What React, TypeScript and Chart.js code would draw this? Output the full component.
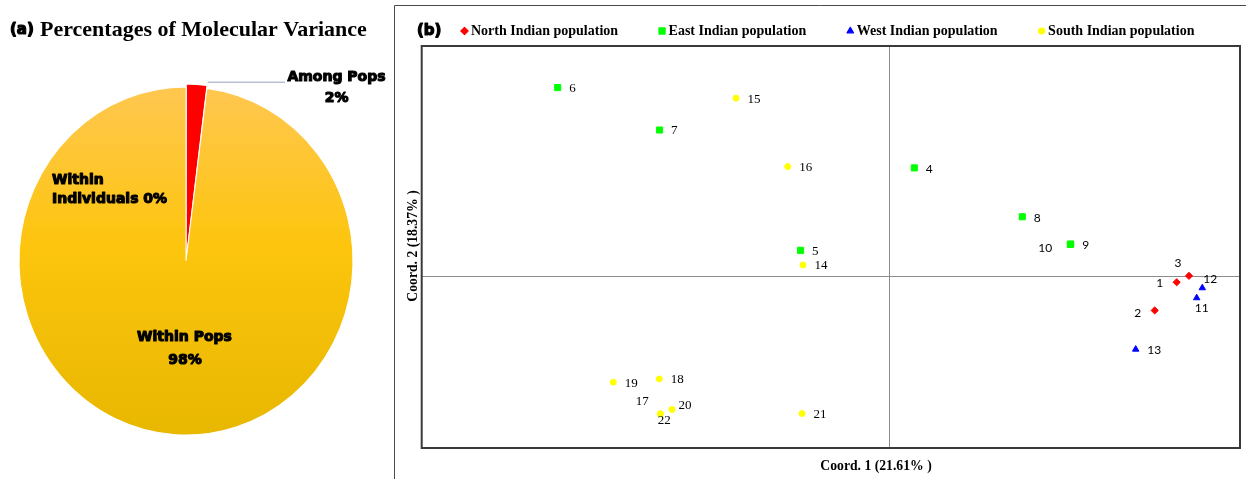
import React, { useEffect, useRef } from "react";
import { Chart, registerables } from "chart.js";
import { drawPoint } from "chart.js/helpers";

Chart.register(...registerables);

// ---------- Panel (a): AMOVA ----------
const amovaCategories = ["Among Pops", "Within Pops", "Within Individuals"];
const amovaPercent = [2, 98, 0];
const panelATitle = "Percentages of Molecular Variance";

// ---------- Panel (b): PCoA ----------
const populationNames = [
  "North Indian population",
  "East Indian population",
  "West Indian population",
  "South Indian population",
];

const northLabels = ["1", "2", "3"];
const northX = [2.874, 2.654, 2.997];
const northY = [-0.06, -0.343, 0.004];

const eastLabels = ["4", "5", "6", "7", "8", "9", "10"];
const eastX = [0.25, -0.887, -3.316, -2.297, 1.33, 1.814, 1.81];
const eastY = [1.087, 0.26, 1.893, 1.467, 0.597, 0.323, 0.32];

const westLabels = ["11", "12", "13"];
const westX = [3.074, 3.13, 2.464];
const westY = [-0.217, -0.117, -0.733];

const southLabels = ["14", "15", "16", "17", "18", "19", "20", "21", "22"];
const southX = [-0.863, -1.533, -1.016, -2.29, -2.3, -2.76, -2.173, -0.873, -2.29];
const southY = [0.113, 1.787, 1.1, -1.38, -1.03, -1.063, -1.337, -1.377, -1.38];

const xAxisTitle = "Coord. 1 (21.61% )";
const yAxisTitle = "Coord. 2 (18.37% )";
const xRange = [-4.676, 3.507];
const yRange = [-1.723, 2.31];

// ---------- styles ----------
const groupStyles = [
  { color: "#FF0000", pointStyle: "rectRot", radius: 3.6 },
  { color: "#00FF00", pointStyle: "rect", radius: 4.3 },
  { color: "#0000FF", pointStyle: "triangle", radius: 3.7 },
  { color: "#FFFF00", pointStyle: "circle", radius: 3.0 },
];
const sansLabels = new Set(["1", "2", "3", "4", "8", "9", "10", "11", "12", "13"]);
const labelShift: Record<string, [number, number]> = {
  "10": [-25, 4],
  "3": [-11, -13],
  "1": [-17, 1],
  "2": [-17, 3],
  "12": [8, -9],
  "11": [5, 10],
  "17": [-18, -12],
  "22": [4, 7],
  "20": [13, -4],
};

const PIE_RADIUS = 167;
const PIE_SQUASH = 1.042;
const SERIF = '"Liberation Serif", "Times New Roman", serif';
const HEAVY = '"DejaVu Sans", sans-serif';

const pieShapePlugin = {
  id: "pieShape",
  beforeDatasetsDraw(chart: any) {
    const arc = chart.getDatasetMeta(0).data[1];
    const ctx = chart.ctx;
    ctx.save();
    ctx.translate(arc.x, arc.y);
    ctx.scale(1, PIE_SQUASH);
    ctx.translate(-arc.x, -arc.y);
  },
  afterDatasetsDraw(chart: any) {
    chart.ctx.restore();
  },
};

function heavyText(ctx: CanvasRenderingContext2D, t: string, x: number, y: number, w = 1.1) {
  ctx.lineWidth = w;
  ctx.lineJoin = "round";
  ctx.strokeStyle = "#000";
  ctx.strokeText(t, x, y);
  ctx.fillText(t, x, y);
}

const pieTextPlugin = {
  id: "pieText",
  afterDraw(chart: any) {
    const ctx: CanvasRenderingContext2D = chart.ctx;
    const meta = chart.getDatasetMeta(0);
    const among = meta.data[0];
    const cx = among.x;
    const cy = among.y;
    const off = 6;
    const r = among.outerRadius + off;
    const ex = cx + Math.cos(among.endAngle) * r;
    const ey = cy + Math.sin(among.endAngle) * r * PIE_SQUASH;
    ctx.save();
    // title
    ctx.fillStyle = "#000";
    ctx.textBaseline = "alphabetic";
    ctx.textAlign = "left";
    ctx.font = `bold 15px ${HEAVY}`;
    heavyText(ctx, "(a)", 10, 34, 1.2);
    ctx.font = `bold 22px ${SERIF}`;
    ctx.fillText(panelATitle, 40, 36);

    // leader line
    ctx.strokeStyle = "#b8c1d2";
    ctx.lineWidth = 1.5;
    ctx.beginPath();
    ctx.moveTo(ex, ey);
    ctx.lineTo(285, ey);
    ctx.stroke();

    ctx.font = `bold 14px ${HEAVY}`;
    ctx.fillStyle = "#000";
    ctx.textBaseline = "middle";
    ctx.textAlign = "center";
    heavyText(ctx, amovaCategories[0], 336.5, 77);
    heavyText(ctx, amovaPercent[0] + "%", 336.7, 98);

    const [w1, w2] = amovaCategories[2].split(" ");
    ctx.textAlign = "left";
    heavyText(ctx, w1, 52, 180);
    heavyText(ctx, w2 + " " + amovaPercent[2] + "%", 52, 199.5);

    const pop = meta.data[1].tooltipPosition();
    ctx.textAlign = "center";
    const ly = cy + (pop.y - cy) * PIE_SQUASH;
    heavyText(ctx, amovaCategories[1], cx - 1.5, ly - 10);
    heavyText(ctx, amovaPercent[1] + "%", cx - 1, ly + 13);
    ctx.restore();
  },
};

const groupLabels = [northLabels, eastLabels, westLabels, southLabels];

const scatterDecorPlugin = {
  id: "scatterDecor",
  afterDraw(chart: any) {
    const ctx: CanvasRenderingContext2D = chart.ctx;
    const a = chart.chartArea;
    ctx.save();
    // panel frame
    ctx.strokeStyle = "#4a4a4a";
    ctx.lineWidth = 1;
    ctx.beginPath();
    ctx.moveTo(0.5, chart.height);
    ctx.lineTo(0.5, 5.5);
    ctx.lineTo(chart.width, 5.5);
    ctx.stroke();
    // plot box
    ctx.strokeStyle = "#3a3a3a";
    ctx.lineWidth = 2;
    ctx.strokeRect(a.left, a.top, a.right - a.left, a.bottom - a.top);

    // point labels
    ctx.fillStyle = "#000";
    ctx.textBaseline = "middle";
    chart.data.datasets.forEach((ds: any, di: number) => {
      const meta = chart.getDatasetMeta(di);
      meta.data.forEach((pt: any, j: number) => {
        const t = groupLabels[di][j];
        ctx.font = sansLabels.has(t) ? "12px Lato, sans-serif" : `13px ${SERIF}`;
        const sh = labelShift[t];
        if (sh) {
          ctx.textAlign = "center";
          ctx.fillText(t, pt.x + sh[0], pt.y + sh[1]);
        } else {
          ctx.textAlign = "left";
          ctx.fillText(t, pt.x + 11.5, pt.y + 1);
        }
      });
    });

    // axis titles
    ctx.font = `bold 13.7px ${SERIF}`;
    ctx.textAlign = "center";
    ctx.fillText(xAxisTitle, 876 - 394, 466);
    ctx.save();
    ctx.translate(19, 246);
    ctx.rotate(-Math.PI / 2);
    ctx.fillText(yAxisTitle, 0, 0);
    ctx.restore();

    // legend
    ctx.textAlign = "left";
    ctx.font = `bold 15px ${HEAVY}`;
    heavyText(ctx, "(b)", 23, 31, 1.2);
    ctx.font = `bold 14px ${SERIF}`;
    let x = 67;
    const ly = 31;
    chart.data.datasets.forEach((ds: any, di: number) => {
      const st = groupStyles[di];
      ctx.fillStyle = st.color;
      ctx.strokeStyle = st.color;
      drawPoint(ctx, { pointStyle: st.pointStyle as any, radius: st.radius, borderWidth: 1, rotation: 0 }, x + 3.5, ly);
      ctx.fillStyle = "#000";
      ctx.fillText(ds.label, x + 10, ly);
      x = x + 10 + ctx.measureText(ds.label).width + 40.5;
    });
    ctx.restore();
  },
};

export default function App() {
  const pieRef = useRef<HTMLCanvasElement>(null);
  const scatterRef = useRef<HTMLCanvasElement>(null);

  useEffect(() => {
    const pie = new Chart(pieRef.current as HTMLCanvasElement, {
      type: "pie",
      data: {
        labels: amovaCategories,
        datasets: [
          {
            data: amovaPercent,
            backgroundColor: (c: any) => {
              if (c.dataIndex === 0) return "#FF0000";
              const area = c.chart.chartArea;
              if (!area) return "#FCC40A";
              const cy = (area.top + area.bottom) / 2;
              const g = c.chart.ctx.createLinearGradient(0, cy - PIE_RADIUS, 0, cy + PIE_RADIUS);
              g.addColorStop(0, "#FFC750");
              g.addColorStop(0.45, "#FDC50E");
              g.addColorStop(1, "#E8B700");
              return g;
            },
            borderColor: "#ffffff",
            borderWidth: [1, 1, 0],
            offset: [6, 0, 0],
            radius: PIE_RADIUS,
          } as any,
        ],
      },
      options: {
        responsive: false,
        animation: false,
        events: [],
        layout: { padding: { left: 0, right: 22, top: 43, bottom: 0 } },
        plugins: { legend: { display: false }, tooltip: { enabled: false } },
      } as any,
      plugins: [pieShapePlugin, pieTextPlugin],
    });

    const groupX = [northX, eastX, westX, southX];
    const groupY = [northY, eastY, westY, southY];
    const scatter = new Chart(scatterRef.current as HTMLCanvasElement, {
      type: "scatter",
      data: {
        datasets: populationNames.map((name, i) => ({
          label: name,
          data: groupX[i].map((x, j) => ({ x, y: groupY[i][j] })),
          pointStyle: groupStyles[i].pointStyle as any,
          pointRadius: groupStyles[i].radius,
          backgroundColor: groupStyles[i].color,
          borderColor: groupStyles[i].color,
          pointBorderWidth: 1,
        })),
      },
      options: {
        responsive: false,
        animation: false,
        events: [],
        layout: { padding: { left: 27.7, right: 6, top: 46, bottom: 31 } },
        plugins: { legend: { display: false }, tooltip: { enabled: false } },
        scales: {
          x: {
            type: "linear",
            min: xRange[0],
            max: xRange[1],
            afterBuildTicks: (s: any) => {
              s.ticks = [{ value: 0 }];
            },
            ticks: { display: false },
            grid: { color: "#8c8c8c", lineWidth: 1, drawTicks: false },
            border: { display: false },
          },
          y: {
            type: "linear",
            min: yRange[0],
            max: yRange[1],
            afterBuildTicks: (s: any) => {
              s.ticks = [{ value: 0 }];
            },
            ticks: { display: false },
            grid: { color: "#8c8c8c", lineWidth: 1, drawTicks: false },
            border: { display: false },
          },
        },
      } as any,
      plugins: [scatterDecorPlugin],
    });

    return () => {
      pie.destroy();
      scatter.destroy();
    };
  }, []);

  return (
    <div
      style={{
        position: "absolute",
        left: 0,
        top: 0,
        width: 1246,
        height: 479,
        background: "#fff",
        overflow: "hidden",
      }}
    >
      <canvas
        ref={pieRef}
        width={394}
        height={479}
        style={{ position: "absolute", left: 0, top: 0, width: 394, height: 479 }}
      />
      <canvas
        ref={scatterRef}
        width={852}
        height={479}
        style={{ position: "absolute", left: 394, top: 0, width: 852, height: 479 }}
      />
    </div>
  );
}
